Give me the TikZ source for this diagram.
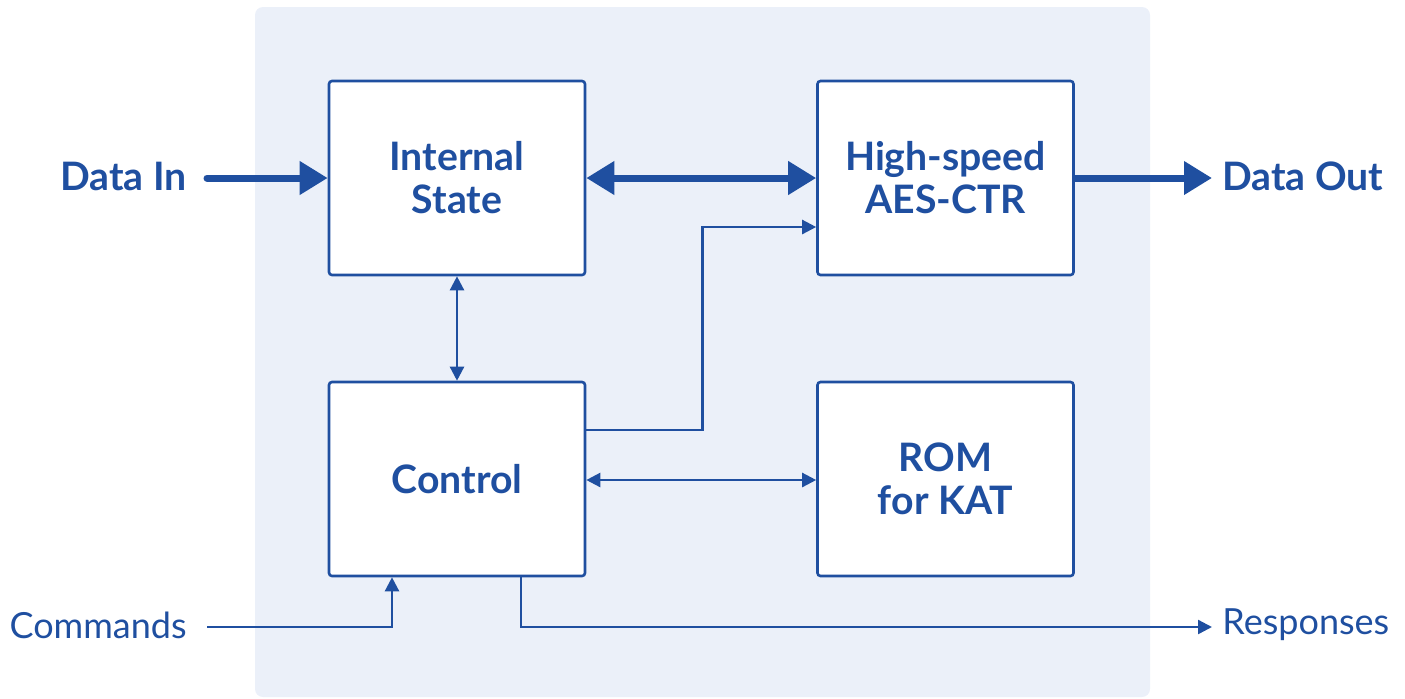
\documentclass[tikz,border=0pt]{standalone}
\usepackage{fontspec}
\setmainfont{Lato}
\usetikzlibrary{arrows.meta}
\definecolor{navy}{HTML}{1F4FA0}
\definecolor{panel}{HTML}{EBF0F9}
\tikzset{
  blk/.style={draw=navy, line width=1.3pt, fill=white, rounded corners=1.5pt, minimum width=128pt, minimum height=97pt, inner sep=0pt, align=center, text=navy, font=\fontsize{19.6}{21.5}\selectfont\bfseries},
  lbl/.style={text=navy, inner sep=0pt, font=\fontsize{18}{21}\selectfont},
  bold/.style={font=\fontsize{19.6}{21.5}\selectfont\bfseries},
  thick arr/.style={draw=navy, line width=3.5pt, -{Triangle[length=14pt,width=16pt]}},
  thick both/.style={draw=navy, line width=3.5pt, {Triangle[length=14pt,width=16pt]}-{Triangle[length=14pt,width=16pt]}},
  thin arr/.style={draw=navy, line width=1.2pt, -{Triangle[length=7pt,width=7pt]}},
  thin both/.style={draw=navy, line width=1.2pt, {Triangle[length=7pt,width=7pt]}-{Triangle[length=7pt,width=7pt]}},
}
\begin{document}
\begin{tikzpicture}[x=0.5pt,y=-0.5pt]
\useasboundingbox (0,0) rectangle (1405,698);
\fill[panel, rounded corners=4pt] (255,7) rectangle (1150,697);
\node[blk] (is) at (457,178) {Internal\\State};
\node[blk] (aes) at (945.5,178) {High-speed\\AES-CTR};
\node[blk] (ctl) at (457,479) {Control};
\node[blk] (rom) at (945.5,479) {ROM\\for KAT};
\node[lbl, bold, anchor=east] (din) at (187,176) {Data In};
\node[lbl, bold, anchor=west] (dout) at (1222,176) {Data Out};
\node[lbl, anchor=east] (cmd) at (187,625) {Commands};
\node[lbl, anchor=west] (rsp) at (1222,625) {Responses};
\coordinate (dinS) at (207,178);
\coordinate (doutE) at (1212,178);
\coordinate (cmdS) at (207,627);
\coordinate (rspE) at (1212,627);
\draw[thick arr, line cap=round] (dinS) -- (is.west |- dinS);
\draw[thick both] (is.east |- dinS) -- (aes.west |- dinS);
\draw[thick arr] (aes.east |- dinS) -- (doutE);
\draw[thin both] (is.south) -- (ctl.north);
\draw[thin arr] ([yshift=24.5pt]ctl.east) -- ++(58pt,0) |- ([yshift=-24.5pt]aes.west);
\draw[thin both] ([yshift=-0.5pt]ctl.east) -- ([yshift=-0.5pt]rom.west);
\draw[thin arr] (cmdS) -| ([xshift=-32.5pt]ctl.south);
\draw[thin arr] ([xshift=32pt]ctl.south) |- (rspE);
\end{tikzpicture}
\end{document}
